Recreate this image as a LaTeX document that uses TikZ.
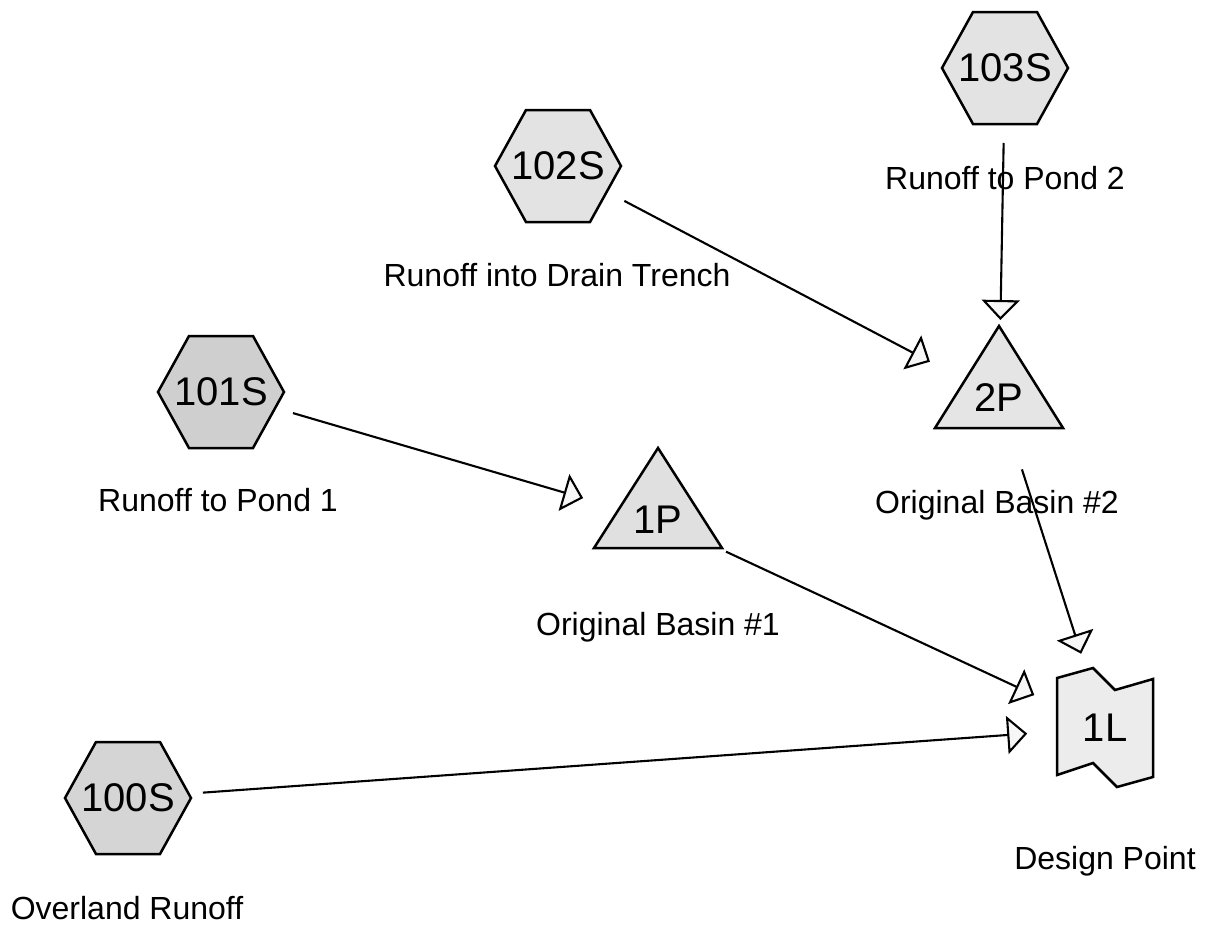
\documentclass[tikz,border=0pt]{standalone}
\usepackage{fontspec}
\setmainfont{Liberation Sans}
\usetikzlibrary{arrows.meta,calc}
\begin{document}
\begin{tikzpicture}[x=1pt,y=-1pt,
  nodetext/.style={inner sep=0pt,font=\fontsize{40}{48}\selectfont},
  shapeline/.style={draw=black,line width=2.5pt,line join=miter},
  lbl/.style={inner sep=0pt,font=\fontsize{32}{38}\selectfont},
  flow/.style={line width=2.1pt,shorten <=75pt,shorten >=78pt,
    -{Triangle[length=20pt,width=38pt,fill=gray!6,line join=miter]}}
]
\useasboundingbox (0,0) rectangle (1207,927);
\fill[white] (0,0) rectangle (1207,927);

% subcatchments (hexagons)
\coordinate (c103) at (1005,68);
\coordinate (c102) at (558,166);
\coordinate (c101) at (221,392);
\coordinate (c100) at (128,798);
\foreach \c/\g in {c103/22,c102/22,c101/38,c100/33}{
  \draw[shapeline,fill=gray!\g] ($(\c)+(-63,0)$) -- ($(\c)+(-32,-56)$) -- ($(\c)+(32,-56)$)
    -- ($(\c)+(63,0)$) -- ($(\c)+(32,56)$) -- ($(\c)+(-32,56)$) -- cycle;
}
\node[nodetext] (h103) at (c103) {103S};
\node[nodetext] (h102) at (c102) {102S};
\node[nodetext] (h101) at (c101) {101S};
\node[nodetext] (h100) at (c100) {100S};

% ponds (triangles)
\coordinate (p2) at (999,398);
\coordinate (p1) at (658,520);
\draw[shapeline,fill=gray!20] ($(p2)+(0,-72)$) -- ($(p2)+(64,30)$) -- ($(p2)+(-64,30)$) -- cycle;
\node[nodetext] (t2P) at (p2) {2P};
\draw[shapeline,fill=gray!24] ($(p1)+(0,-72)$) -- ($(p1)+(64,28)$) -- ($(p1)+(-64,28)$) -- cycle;
\node[nodetext] (t1P) at (p1) {1P};

% link
\coordinate (l1) at (1105,728);
\draw[shapeline,fill=gray!15] ($(l1)+(-48,-50)$) -- ($(l1)+(-12,-60)$) -- ($(l1)+(10,-38)$)
  -- ($(l1)+(48,-49)$) -- ($(l1)+(48,49)$) -- ($(l1)+(12,59)$) -- ($(l1)+(-12,35)$)
  -- ($(l1)+(-48,47)$) -- cycle;
\node[nodetext] (t1L) at (l1) {1L};

% labels
\node[lbl] (lab103) at (1005,178) {Runoff to Pond 2};
\node[lbl] (lab102) at (557,275) {Runoff into Drain Trench};
\node[lbl] (lab101) at (218,500) {Runoff to Pond 1};
\node[lbl] (lab2P) at (997,505) {Original Basin \#2};
\node[lbl] (lab1P) at (658,627) {Original Basin \#1};
\node[lbl] (lab1L) at (1105,861) {Design Point};
\node[lbl] (lab100) at (127,908) {Overland Runoff};

% connectors
\draw[flow] (c103) -- (p2);
\draw[flow] (c102) -- (p2);
\draw[flow] (c101) -- (p1);
\draw[flow] (p1) -- (l1);
\draw[flow] (p2) -- (l1);
\draw[flow] (c100) -- (l1);
\end{tikzpicture}
\end{document}
